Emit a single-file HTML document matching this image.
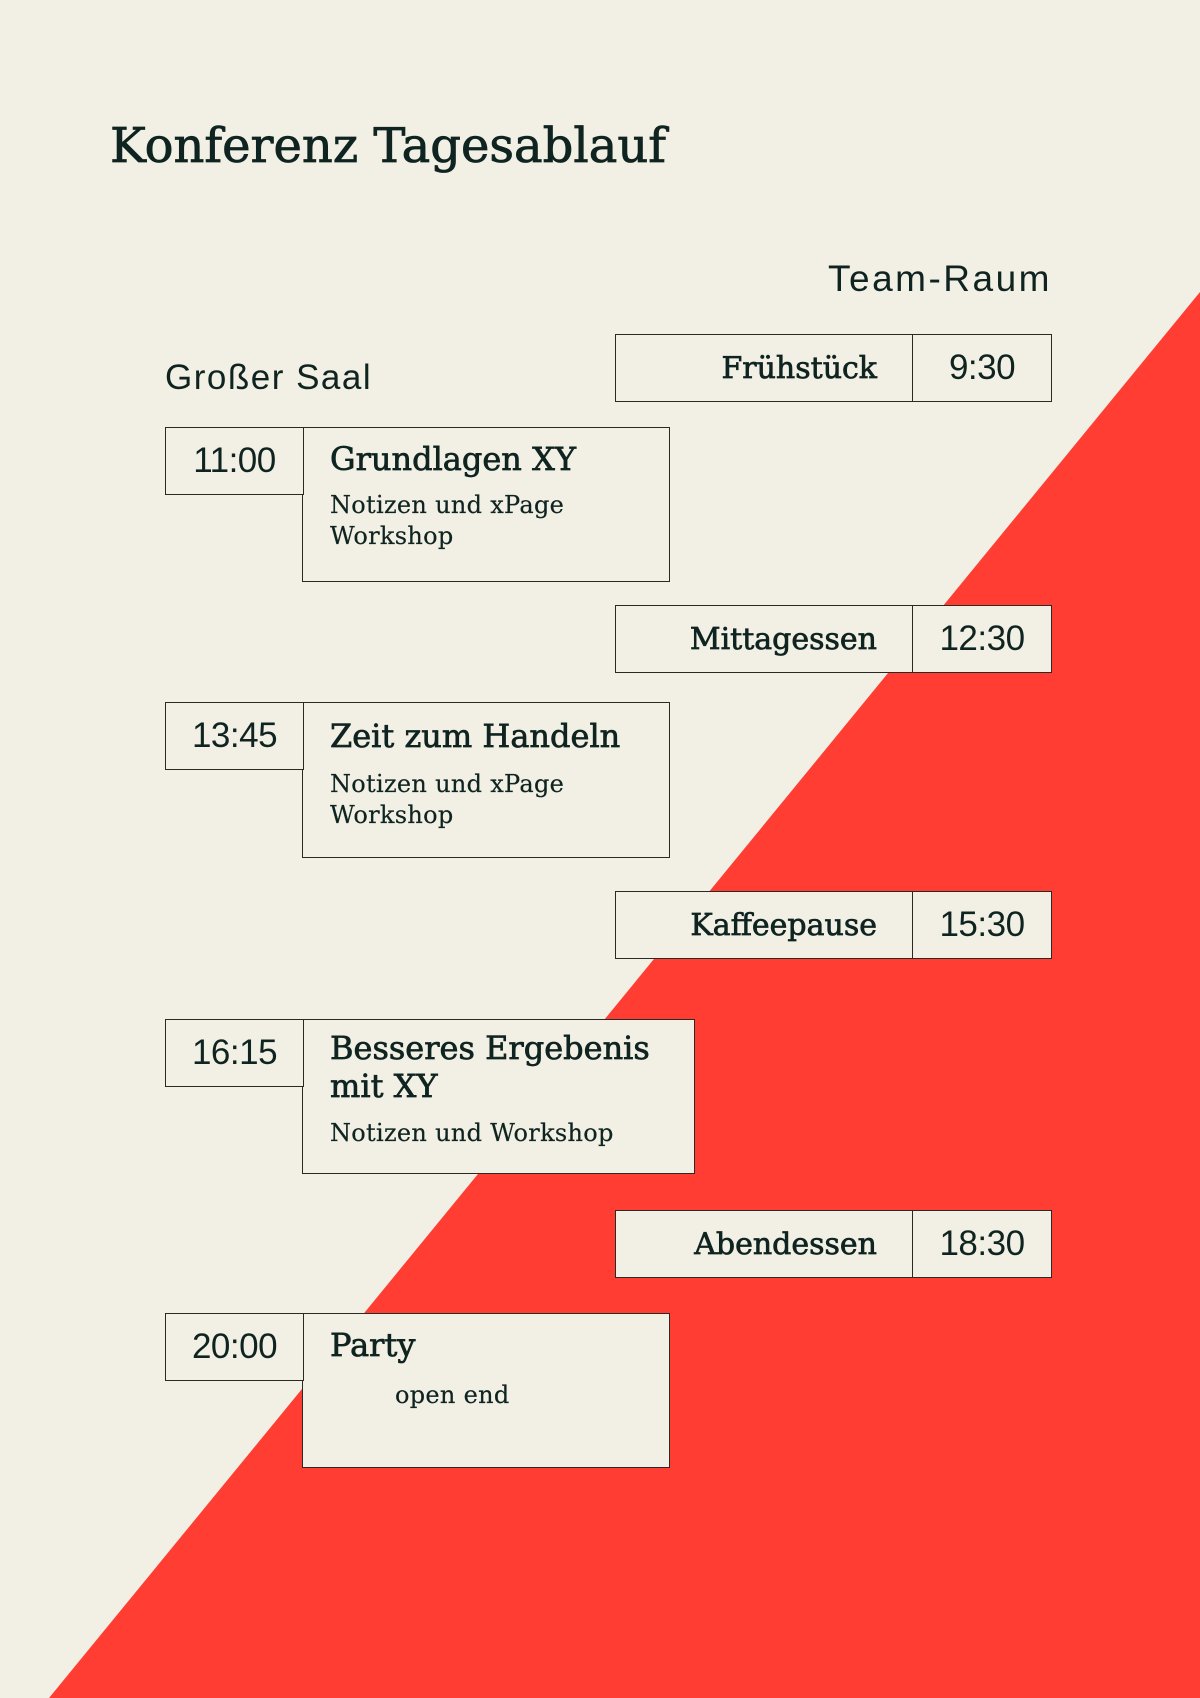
<!DOCTYPE html>
<html><head><meta charset="utf-8"><style>
*{margin:0;padding:0;box-sizing:border-box}
body{width:1200px;height:1698px;background:#f2efe4;position:relative;overflow:hidden;color:#0f2421}
.s{font-family:"DejaVu Serif","Liberation Serif",serif}
.a{font-family:"Liberation Sans",sans-serif}
.b{position:absolute;border:1.3px solid #2a2a22;background:#f2efe4}
.t{position:absolute;white-space:nowrap}
.tm{position:absolute;display:flex;align-items:center;justify-content:center;font-family:"Liberation Sans",sans-serif;font-size:35px;letter-spacing:-0.5px;border:1.3px solid #2a2a22;background:#f2efe4}
.lbl{position:absolute;display:flex;align-items:center;justify-content:flex-end;padding-right:36px;font-family:"DejaVu Serif",serif;font-size:30px;-webkit-text-stroke:0.7px #0f2421;border:1.3px solid #2a2a22;background:#f2efe4}
.ti{font-size:32px;-webkit-text-stroke:0.7px #0f2421}
.su{font-size:24px;line-height:31px;letter-spacing:0.3px;-webkit-text-stroke:0.2px #0f2421}
</style></head><body>
<svg style="position:absolute;left:0;top:0" width="1200" height="1698"><polygon points="1200,292 1200,1698 49,1698" fill="#ff3d33"/></svg>
<div class="t s" style="left:110px;top:118px;font-size:48px;-webkit-text-stroke:0.8px #0f2421">Konferenz Tagesablauf</div>
<div class="t a" style="right:148px;top:258px;font-size:37px;letter-spacing:2.5px">Team-Raum</div>
<div class="t a" style="left:165px;top:358px;font-size:35px;letter-spacing:1.5px">Großer Saal</div>

<div class="lbl" style="left:615px;top:334px;width:299px;height:68px">Frühstück</div>
<div class="tm" style="left:912px;top:334px;width:140px;height:68px">9:30</div>

<div class="b" style="left:302px;top:427px;width:368px;height:155px"></div>
<div class="tm" style="left:165px;top:427px;width:139px;height:68px">11:00</div>
<div class="t s ti" style="left:330px;top:440px">Grundlagen XY</div>
<div class="t s su" style="left:330px;top:490px">Notizen und xPage<br>Workshop</div>

<div class="lbl" style="left:615px;top:605px;width:299px;height:68px">Mittagessen</div>
<div class="tm" style="left:912px;top:605px;width:140px;height:68px">12:30</div>

<div class="b" style="left:302px;top:702px;width:368px;height:156px"></div>
<div class="tm" style="left:165px;top:702px;width:139px;height:68px">13:45</div>
<div class="t s ti" style="left:330px;top:717px">Zeit zum Handeln</div>
<div class="t s su" style="left:330px;top:769px">Notizen und xPage<br>Workshop</div>

<div class="lbl" style="left:615px;top:891px;width:299px;height:68px">Kaffeepause</div>
<div class="tm" style="left:912px;top:891px;width:140px;height:68px">15:30</div>

<div class="b" style="left:302px;top:1019px;width:393px;height:155px"></div>
<div class="tm" style="left:165px;top:1019px;width:139px;height:68px">16:15</div>
<div class="t s ti" style="left:330px;top:1029px;line-height:38px">Besseres Ergebenis<br>mit XY</div>
<div class="t s su" style="left:330px;top:1118px">Notizen und Workshop</div>

<div class="lbl" style="left:615px;top:1210px;width:299px;height:68px">Abendessen</div>
<div class="tm" style="left:912px;top:1210px;width:140px;height:68px">18:30</div>

<div class="b" style="left:302px;top:1313px;width:368px;height:155px"></div>
<div class="tm" style="left:165px;top:1313px;width:139px;height:68px">20:00</div>
<div class="t s ti" style="left:330px;top:1326px">Party</div>
<div class="t s su" style="left:395px;top:1380px">open end</div>
</body></html>
